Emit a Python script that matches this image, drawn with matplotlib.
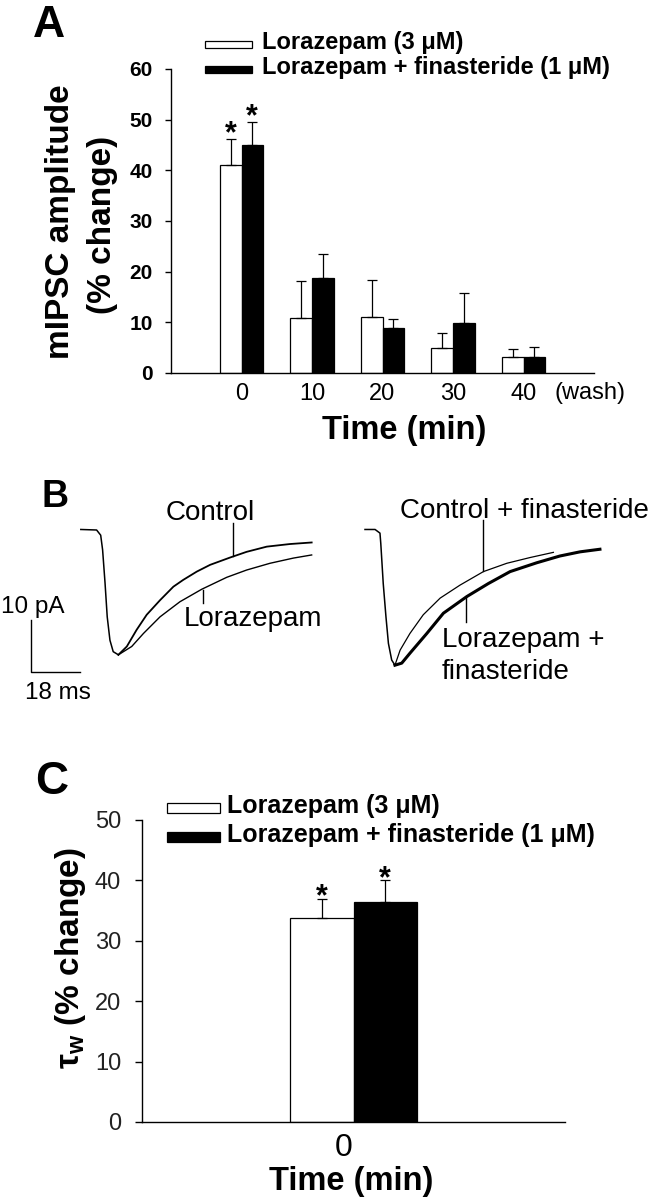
import matplotlib
matplotlib.use("Agg")
import matplotlib.pyplot as plt
from matplotlib.patches import Rectangle
from matplotlib.lines import Line2D
from matplotlib.transforms import ScaledTranslation

plt.rcParams['font.family'] = ['Liberation Sans', 'DejaVu Sans']
plt.rcParams['mathtext.fontset'] = 'custom'
plt.rcParams['mathtext.rm'] = 'Liberation Sans'
plt.rcParams['mathtext.it'] = 'Liberation Sans:italic'
plt.rcParams['mathtext.bf'] = 'Liberation Sans:bold'

# ---------------- data ----------------
series_labels = ['Lorazepam (3 μM)', 'Lorazepam + finasteride (1 μM)']

# Panel A: mIPSC amplitude (% change)
time_ticks_A = ['0', '10', '20', '30', '40']
lor_amp = [41.0, 10.8, 11.1, 5.0, 3.1]
lor_amp_err = [5.1, 7.3, 7.3, 2.9, 1.6]
fin_amp = [45.0, 18.7, 8.8, 9.8, 3.1]
fin_amp_err = [4.5, 4.8, 1.8, 5.9, 2.1]
amp_significant = [True, False, False, False, False]

# Panel C: tau_w (% change)
time_ticks_C = ['0']
lor_tau = [33.7]
lor_tau_err = [3.3]
fin_tau = [36.4]
fin_tau_err = [3.6]
tau_significant = [True]

# Panel B: averaged mIPSC traces (time in ms, current in pA)
onset_left_t = [0.3, 6.1, 7.6, 8.3, 9.2, 10.0, 11.0, 12.2, 14.1]
onset_left_i = [0.1, 0.0, -1.0, -3.8, -10.2, -16.7, -21.2, -23.4, -24.0]
control_t = [14.1, 17.2, 20.8, 24.5, 29.4, 34.3, 37.9, 42.9, 47.8, 55.1, 61.2, 68.6, 77.1, 85.1]
control_i = [-24.0, -22.4, -19.2, -16.3, -13.5, -10.9, -9.6, -8.0, -6.7, -5.3, -4.2, -3.2, -2.7, -2.4]
lorazepam_t = [14.1, 19.0, 23.3, 29.4, 36.7, 44.7, 53.9, 61.2, 69.8, 78.4, 85.1]
lorazepam_i = [-24.0, -22.4, -19.9, -16.7, -13.8, -11.4, -9.1, -7.7, -6.4, -5.4, -4.8]

onset_right_t = [0.0, 3.7, 5.5, 5.8, 6.7, 7.7, 8.6, 9.8, 11.0]
onset_right_i = [0.1, 0.1, -0.6, -2.6, -10.3, -16.7, -21.8, -25.0, -26.0]
control_fin_t = [11.0, 12.9, 16.5, 21.4, 27.6, 34.9, 43.5, 52.1, 60.6, 69.2]
control_fin_i = [-26.0, -23.1, -19.9, -16.3, -13.1, -10.6, -8.0, -6.4, -5.3, -4.3]
lor_fin_t = [11.0, 13.5, 16.5, 22.7, 28.8, 37.4, 45.3, 53.3, 63.1, 71.6, 79.0, 86.3]
lor_fin_i = [-26.0, -25.6, -23.7, -19.9, -16.0, -12.8, -10.3, -8.0, -6.3, -5.0, -4.2, -3.7]

scale_ms = 18
scale_pA = 10

# ---------------- figure ----------------
W, H = 652, 1199
fig = plt.figure(figsize=(W / 100, H / 100), dpi=100)


def ftext(x, y, s, **kw):
    return fig.text(x / W, 1 - y / H, s, **kw)


def fline(xs, ys, **kw):
    fig.add_artist(Line2D([x / W for x in xs], [1 - y / H for y in ys],
                          transform=fig.transFigure, color='black', **kw))


def frect(x0, y0, x1, y1, fc):
    fig.add_artist(Rectangle((x0 / W, 1 - y1 / H), (x1 - x0) / W, (y1 - y0) / H,
                             transform=fig.transFigure, facecolor=fc,
                             edgecolor='black', linewidth=0.9))


def axes_px(l, t, r, b):
    return fig.add_axes([l / W, 1 - b / H, (r - l) / W, (b - t) / H])


def bar_panel(ax, lor, lor_err, fin, fin_err, sig, width, star_off):
    x = list(range(len(lor)))
    xl = [v - width / 2 for v in x]
    xr = [v + width / 2 for v in x]
    ax.bar(xl, lor, width, color='white', edgecolor='black', linewidth=0.9, zorder=2)
    ax.bar(xr, fin, width, color='black', edgecolor='black', linewidth=0.9, zorder=2)
    ax.errorbar(xl, lor, yerr=[[0] * len(lor), lor_err], fmt='none', ecolor='black',
                elinewidth=0.9, capsize=3.5, capthick=0.9, zorder=3)
    ax.errorbar(xr, fin, yerr=[[0] * len(fin), fin_err], fmt='none', ecolor='black',
                elinewidth=0.9, capsize=3.5, capthick=0.9, zorder=3)
    for i, s in enumerate(sig):
        if s:
            for xx, v, e in ((xl[i], lor[i], lor_err[i]), (xr[i], fin[i], fin_err[i])):
                ax.annotate('*', xy=(xx, v + e), xytext=(0, star_off),
                            textcoords='offset points', ha='center', va='baseline',
                            fontsize=22, fontweight='bold')
    for s in ('top', 'right'):
        ax.spines[s].set_visible(False)
    for s in ('left', 'bottom'):
        ax.spines[s].set_linewidth(1.0)
    ax.set_xticks(x)


# ---------------- Panel A ----------------
axA = axes_px(171, 69, 594, 373)
bar_panel(axA, lor_amp, lor_amp_err, fin_amp, fin_amp_err, amp_significant, 0.305, -2.2)
axA.set_xlim(-1, 5)
axA.set_ylim(0, 60)
axA.set_yticks(range(0, 61, 10))
axA.tick_params(axis='y', direction='out', length=4, width=1.0, pad=9, labelsize=15)
for lab in axA.get_yticklabels():
    lab.set_fontweight('bold')
axA.set_xticklabels(time_ticks_A, fontsize=17)
axA.tick_params(axis='x', length=0, pad=7)
ftext(555, 399, '(wash)', fontsize=17, ha='left', va='baseline')
ftext(404, 439, 'Time (min)', fontsize=23.5, fontweight='bold', ha='center', va='baseline')
ftext(69, 222, 'mIPSC amplitude', fontsize=24, fontweight='bold', rotation=90,
      rotation_mode='anchor', ha='center', va='baseline')
ftext(111, 225, '(% change)', fontsize=24, fontweight='bold', rotation=90,
      rotation_mode='anchor', ha='center', va='baseline')
ftext(33, 37, 'A', fontsize=32, fontweight='bold', ha='left', va='baseline')
# legend A
frect(205, 41, 252, 48, 'white')
frect(205, 66, 252, 73, 'black')
ftext(262, 48.5, series_labels[0], fontsize=17, fontweight='bold', va='baseline')
ftext(262, 74, series_labels[1], fontsize=17, fontweight='bold', va='baseline')

# ---------------- Panel B ----------------
MS_PER_PX = scale_ms / 49.0
PA_PER_PX = scale_pA / 52.0
axB = axes_px(0, 470, 652, 710)
axB.set_xlim((0 - 80) * MS_PER_PX, (652 - 80) * MS_PER_PX)
axB.set_ylim(-(710 - 530) * PA_PER_PX, -(470 - 530) * PA_PER_PX)
axB.axis('off')
right_offset = (365 - 80) * MS_PER_PX
axB.plot(onset_left_t, onset_left_i, color='black', lw=1.1)
axB.plot(control_t, control_i, color='black', lw=1.3)
axB.plot(lorazepam_t, lorazepam_i, color='black', lw=1.0)
axB.plot([t + right_offset for t in onset_right_t], onset_right_i, color='black', lw=1.1)
axB.plot([t + right_offset for t in control_fin_t], control_fin_i, color='black', lw=0.9)
axB.plot([t + right_offset for t in lor_fin_t], lor_fin_i, color='black', lw=2.2)
# scale bar
sb_x, sb_y = -scale_ms, -(672 - 530) * PA_PER_PX
axB.plot([sb_x, sb_x, sb_x + scale_ms], [sb_y + scale_pA, sb_y, sb_y], color='black', lw=1.0)
ftext(1, 613, f'{scale_pA} pA', fontsize=17.5, ha='left', va='baseline')
ftext(25, 699, f'{scale_ms} ms', fontsize=17.5, ha='left', va='baseline')
# labels with pointers
ftext(166, 520, 'Control', fontsize=20, ha='left', va='baseline')
fline([233, 233], [523, 556], lw=1.0)
ftext(184, 626, 'Lorazepam', fontsize=20, ha='left', va='baseline')
fline([203, 203], [590, 603], lw=1.0)
ftext(400, 518, 'Control + finasteride', fontsize=20, ha='left', va='baseline')
fline([483, 483], [520, 571], lw=1.0)
ftext(442, 647, 'Lorazepam +', fontsize=20, ha='left', va='baseline')
ftext(442, 679, 'finasteride', fontsize=20, ha='left', va='baseline')
fline([466, 466], [597, 622], lw=1.0)
ftext(42, 507, 'B', fontsize=27, fontweight='bold', ha='left', va='baseline')

# ---------------- Panel C ----------------
axC = axes_px(142, 820, 565, 1122)
bar_panel(axC, lor_tau, lor_tau_err, fin_tau, fin_tau_err, tau_significant, 0.3, -5)
axC.set_xlim(-1, 1)
axC.set_ylim(0, 50)
axC.set_yticks(range(0, 51, 10))
axC.tick_params(axis='y', direction='out', length=5, width=1.0, pad=10, labelsize=17,
                labelcolor='#222222')
axC.set_xticklabels(time_ticks_C, fontsize=23)
axC.tick_params(axis='x', length=0, pad=8)
for lab in axC.get_xticklabels():
    lab.set_transform(lab.get_transform() + ScaledTranslation(-10 / 100, 0, fig.dpi_scale_trans))
ftext(351, 1190, 'Time (min)', fontsize=23.5, fontweight='bold', ha='center', va='baseline')
ftext(79, 958, r'τ$_\mathregular{w}$ (% change)', fontsize=24, fontweight='bold', rotation=90,
      rotation_mode='anchor', ha='center', va='baseline')
ftext(35, 794, 'C', fontsize=33, fontweight='bold', ha='left', va='baseline')
frect(167, 803, 220, 813, 'white')
frect(167, 832, 220, 842, 'black')
ftext(227, 813, series_labels[0], fontsize=18, fontweight='bold', va='baseline')
ftext(227, 842, series_labels[1], fontsize=18, fontweight='bold', va='baseline')

fig.savefig('out.png', dpi=100)
